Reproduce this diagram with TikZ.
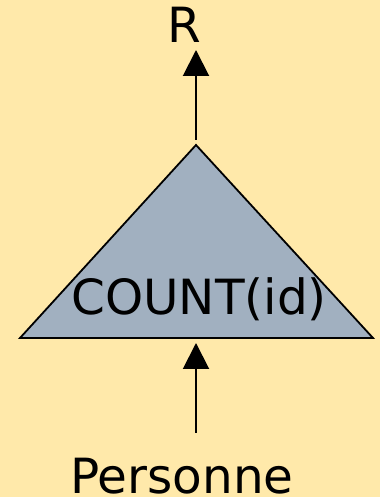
\documentclass[tikz,border=0pt]{standalone}
\usepackage{fontspec}
\setmainfont{DejaVu Sans}
\usetikzlibrary{arrows.meta}
\definecolor{bg}{RGB}{255,233,170}
\definecolor{tri}{RGB}{161,176,192}
\begin{document}
\begin{tikzpicture}[x=1pt,y=1pt,
  lbl/.style={font=\fontsize{48.5}{50}\selectfont, inner sep=0pt, anchor=base},
  flow/.style={line width=2pt, -{Triangle[width=26pt,length=26pt]}}]
\fill[bg] (0,0) rectangle (380,497);
\useasboundingbox (0,0) rectangle (380,497);
% triangle operator
\coordinate (apex) at (196,352);
\coordinate (bl) at (20,159);
\coordinate (br) at (373,159);
\filldraw[fill=tri, draw=black, line width=1.8pt, line join=miter] (apex) -- (bl) -- (br) -- cycle;
\node[lbl] (op) at (199,182) {COUNT(id)};
\node[lbl] (r) at (184,454) {R};
\node[lbl] (p) at (182,3) {Personne};
\coordinate (topstart) at (196,357);
\coordinate (topend) at (196,447);
\coordinate (botstart) at (196,64);
\coordinate (botend) at (196,154);
\draw[flow] (topstart) -- (topend);
\draw[flow] (botstart) -- (botend);
\end{tikzpicture}
\end{document}
